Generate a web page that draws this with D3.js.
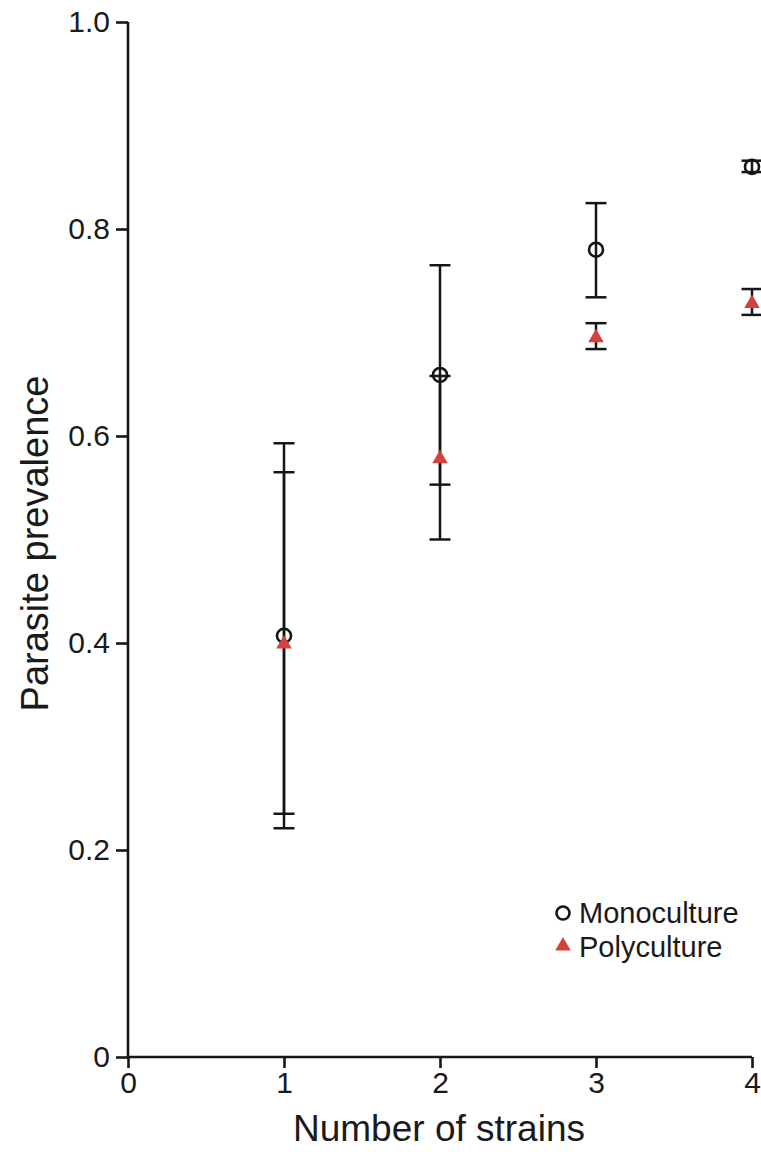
<!DOCTYPE html>
<html>
<head>
<meta charset="utf-8">
<script src="https://cdn.jsdelivr.net/npm/d3@7"></script>
<style>
  body { margin: 0; background: #fff; }
  svg { display: block; }
  text { font-family: "Liberation Sans", Arial, Helvetica, sans-serif; fill: #1a1a1a; }
</style>
</head>
<body>
<div id="chart"></div>
<script>
// values
const strains = [1, 2, 3, 4]
const monoMean = [0.407, 0.659, 0.780, 0.860]
const monoLow = [0.221, 0.553, 0.734, 0.855]
const monoHigh = [0.593, 0.765, 0.825, 0.866]
const polyMean = [0.400, 0.579, 0.696, 0.729]
const polyLow = [0.235, 0.500, 0.684, 0.717]
const polyHigh = [0.565, 0.658, 0.709, 0.742]
const xTicks = [0, 1, 2, 3, 4]
const yTicks = [0, 0.2, 0.4, 0.6, 0.8, 1.0]
const yTickLabels = ["0", "0.2", "0.4", "0.6", "0.8", "1.0"]

const width = 761, height = 1152
const red = "#d2423e"
const ink = "#161616"

const svg = d3.select("#chart").append("svg")
    .attr("width", width)
    .attr("height", height)

let x = d3.scaleLinear().domain([0, 4]).range([128, 752])
let y = d3.scaleLinear().domain([0, 1]).range([1057, 22])

// axes
let yAxis = d3.axisLeft(y)
    .tickValues(yTicks)
    .tickSize(12)
    .tickPadding(6)
    .tickFormat((d, i) => yTickLabels[i])

let xAxis = d3.axisBottom(x)
    .tickValues(xTicks)
    .tickSize(11)
    .tickPadding(4)
    .tickFormat(d3.format("d"))

const gy = svg.append("g")
    .attr("transform", `translate(${x(0)},0)`)
    .call(yAxis)
const gx = svg.append("g")
    .attr("transform", `translate(0,${y(0)})`)
    .call(xAxis)

for (const g of [gx, gy]) {
    g.attr("font-size", 30)
    g.select(".domain").attr("stroke", ink).attr("stroke-width", 2.6)
    g.selectAll(".tick line").attr("stroke", ink).attr("stroke-width", 2.6)
    g.selectAll(".tick text").attr("font-size", 30).attr("fill", ink)
        .style("font-family", "'Liberation Sans', Arial, sans-serif")
}
// plain axis lines without the outer ticks
gy.select(".domain").attr("d", `M0,${y(1)}V${y(0)}`)
gx.select(".domain").attr("d", `M${x(0)},0H${x(4)}`)

// axis titles
svg.append("text")
    .attr("x", 439)
    .attr("y", 1141)
    .attr("text-anchor", "middle")
    .attr("font-size", 37)
    .text("Number of strains")

svg.append("text")
    .attr("transform", `translate(48,${y(0.5) + 4}) rotate(-90)`)
    .attr("text-anchor", "middle")
    .attr("font-size", 38)
    .text("Parasite prevalence")

// error bars
const capW = 10.5
function errorBars(lo, hi) {
    const g = svg.append("g").attr("stroke", ink).attr("stroke-width", 2.5)
    strains.forEach((s, i) => {
        g.append("line")
            .attr("x1", x(s)).attr("x2", x(s))
            .attr("y1", y(lo[i])).attr("y2", y(hi[i]))
        for (const v of [lo[i], hi[i]]) {
            g.append("line")
                .attr("x1", x(s) - capW).attr("x2", x(s) + capW)
                .attr("y1", y(v)).attr("y2", y(v))
        }
    })
}
errorBars(monoLow, monoHigh)
errorBars(polyLow, polyHigh)

// points
const tri = d3.symbol().type(d3.symbolTriangle).size(105)

svg.append("g").selectAll("circle")
    .data(strains)
    .join("circle")
    .attr("cx", d => x(d))
    .attr("cy", (d, i) => y(monoMean[i]))
    .attr("r", 7)
    .attr("fill", "none")
    .attr("stroke", ink)
    .attr("stroke-width", 2.6)

svg.append("g").selectAll("path")
    .data(strains)
    .join("path")
    .attr("d", tri)
    .attr("transform", (d, i) => `translate(${x(d)},${y(polyMean[i]) + 1})`)
    .attr("fill", red)

// legend
const legend = svg.append("g")
legend.append("circle")
    .attr("cx", 563).attr("cy", 913).attr("r", 6.5)
    .attr("fill", "none").attr("stroke", ink).attr("stroke-width", 2.6)
legend.append("text")
    .attr("x", 579).attr("y", 923)
    .attr("font-size", 29)
    .text("Monoculture")
legend.append("path")
    .attr("d", tri)
    .attr("transform", "translate(563,946)")
    .attr("fill", red)
legend.append("text")
    .attr("x", 579).attr("y", 957)
    .attr("font-size", 29)
    .text("Polyculture")
</script>
</body>
</html>
